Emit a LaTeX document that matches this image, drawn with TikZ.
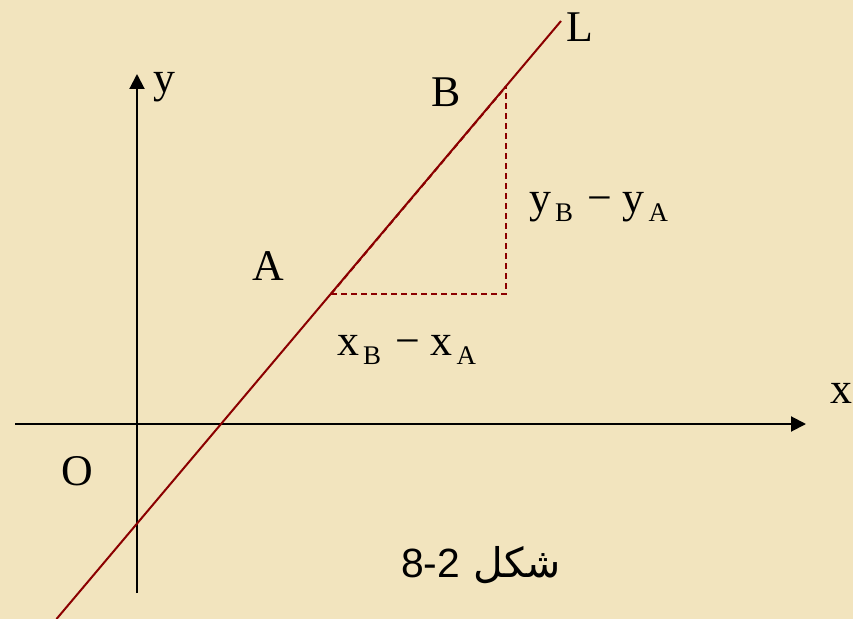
\documentclass[tikz,border=0pt]{standalone}
\usepackage{fontspec}
\setmainfont{Liberation Serif}
\newfontfamily\arabicfont[Script=Arabic]{DejaVu Sans}
\newfontfamily\digitfont{Liberation Sans}
\TeXXeTstate=1
\usetikzlibrary{arrows.meta}
\definecolor{parch}{RGB}{242,228,190}
\definecolor{lred}{RGB}{139,0,0}
\newcommand{\bigsz}{\fontsize{44}{50}\selectfont}
\newcommand{\subsz}{\fontsize{27}{30}\selectfont}
\newcommand{\diff}[1]{#1\hspace{4bp}\raisebox{-9bp}{\subsz B}\hspace{14bp}\textminus\hspace{11bp}#1\hspace{4bp}\raisebox{-9bp}{\subsz A}}
\begin{document}
\begin{tikzpicture}[x=1bp,y=-1bp,
  lbl/.style={inner sep=0pt,anchor=base,font=\bigsz},
  axis/.style={line width=2bp,black,-{Triangle[width=15bp,length=15bp]}},
  lline/.style={line width=2bp,lred},
  dline/.style={line width=2bp,lred,dash pattern=on 6bp off 4bp}]
\fill[parch] (0,0) rectangle (853,619);
\useasboundingbox (0,0) rectangle (853,619);
% axes
\coordinate (xs) at (15,424);
\coordinate (xe) at (806,424);
\coordinate (ys) at (137,593);
\coordinate (ye) at (137,74);
\draw[axis] (xs) -- (xe);
\draw[axis] (ys) -- (ye);
% line L
\coordinate (Lb) at (56.5,619);
\coordinate (Lt) at (561,21);
\coordinate (A) at (331,294);
\coordinate (B) at (506,86.5);
\coordinate (C) at (506,294);
\draw[lline] (Lb) -- (Lt);
\draw[dline] (A) -- (C) -- (B);
\draw[dline] (A) -- (B);
% labels
\node[lbl] (ly) at (164,93) {y};
\node[lbl] (lL) at (580,42) {L};
\node[lbl] (lB) at (446,107) {B};
\node[lbl] (lA) at (268,280) {A};
\node[lbl] (lO) at (77,485) {O};
\node[lbl] (lx) at (841,403) {x};
\node[inner sep=0pt,anchor=base west,font=\bigsz] (dy) at (529,213) {\diff{y}};
\node[inner sep=0pt,anchor=base west,font=\bigsz] (dx) at (337,355) {\diff{x}};
\node[inner sep=0pt,anchor=base,font=\fontsize{41}{46}\selectfont] (cap) at (481,577)
  {\arabicfont\beginR شكل \beginL{\digitfont 8-2}\endL\endR};
\end{tikzpicture}
\end{document}
